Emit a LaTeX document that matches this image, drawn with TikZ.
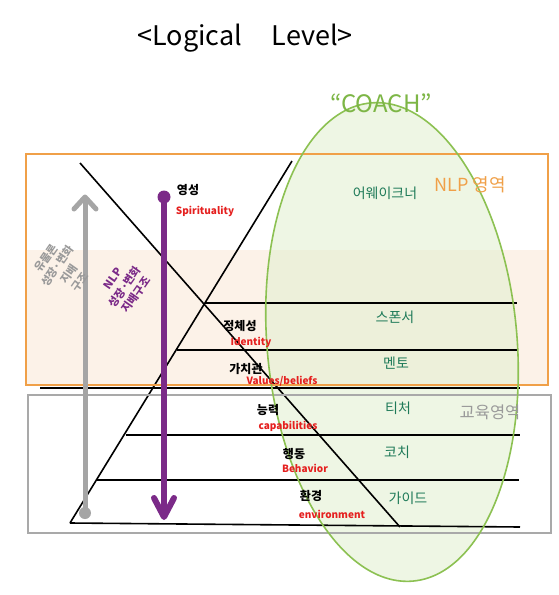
\documentclass[tikz,border=0pt]{standalone}
\usepackage{fontspec}
\usetikzlibrary{calc}
\newfontfamily\kr{Noto Sans CJK KR}
\definecolor{orng}{HTML}{F0A048}
\definecolor{peach}{HTML}{FCF2E8}
\definecolor{gbox}{HTML}{A9A9A9}
\definecolor{elfill}{HTML}{E4F0D2}
\definecolor{elline}{HTML}{8CC152}
\definecolor{dgreen}{HTML}{1E7A58}
\definecolor{lred}{HTML}{E5201F}
\definecolor{purp}{HTML}{7B2A88}
\definecolor{garrow}{HTML}{A5A5A5}
\definecolor{coach}{HTML}{7DB646}
\definecolor{gtext}{HTML}{9A9A9A}
\tikzset{
  lvl/.style={line width=1.6pt, black},
  kor/.style={font=\kr\bfseries\fontsize{12}{13}\selectfont, text=black, inner sep=0pt},
  eng/.style={font=\kr\bfseries\fontsize{10}{11}\selectfont, text=lred, inner sep=0pt},
  role/.style={font=\kr\fontsize{14}{15}\selectfont, text=dgreen, inner sep=0pt},
  rot/.style={font=\kr\bfseries\fontsize{11}{14}\selectfont, align=center, rotate=55, inner sep=0pt},
}
\begin{document}
\begin{tikzpicture}[x=1pt,y=-1pt]
\useasboundingbox (0,0) rectangle (559,595);
\fill[white] (0,0) rectangle (559,595);

% peach band
\fill[peach] (27,250) rectangle (547,385);

% ellipse fill
\begin{scope}[shift={(392,342)}, rotate=5]
  \fill[elfill, opacity=0.6] (0,0) ellipse [x radius=125pt, y radius=240pt];
\end{scope}

% pyramid coordinates
\coordinate (pbl) at (70,523);
\coordinate (ptr) at (292,161);
\coordinate (ptl) at (80,163);
\coordinate (pbr) at (400,527);
\coordinate (h1l) at (205,303); \coordinate (h1r) at (517,303);
\coordinate (h2l) at (177,350); \coordinate (h2r) at (517,350);
\coordinate (h3l) at (40,388);  \coordinate (h3r) at (520,388);
\coordinate (h4l) at (126,435); \coordinate (h4r) at (520,435);
\coordinate (h5l) at (97,480);  \coordinate (h5r) at (519,480);
\coordinate (h6r) at (520,527);

\draw[lvl] (pbl) -- (ptr);
\draw[lvl] (ptl) -- (pbr);
\draw[lvl] (h1l) -- (h1r);
\draw[lvl] (h2l) -- (h2r);
\draw[lvl] (h3l) -- (h3r);
\draw[lvl] (h4l) -- (h4r);
\draw[lvl] (h5l) -- (h5r);
\draw[lvl] (pbl) -- (h6r);

% boxes
\draw[orng, line width=1.8pt] (26,154) rectangle (548,385);
\draw[gbox, line width=1.5pt] (28,395) rectangle (551,533);

% ellipse outline
\begin{scope}[shift={(392,342)}, rotate=5]
  \draw[elline, line width=1.6pt] (0,0) ellipse [x radius=125pt, y radius=240pt];
\end{scope}

% gray arrow (upward)
\coordinate (gb) at (85,513);
\coordinate (gt) at (85,197);
\draw[garrow, line width=5pt] (gb) -- (gt);
\draw[garrow, line width=5pt, line cap=round, line join=round] ($(gt)+(-11,12)$) -- (gt) -- ($(gt)+(11,12)$);
\fill[garrow] (gb) circle (6pt);

% purple arrow (downward)
\coordinate (pt) at (164,197);
\coordinate (pb) at (164,517);
\draw[purp, line width=6pt] (pt) -- (pb);
\draw[purp, line width=6pt, line cap=round, line join=round] ($(pb)+(-10,-19)$) -- (pb) -- ($(pb)+(10,-19)$);
\fill[purp] (pt) circle (6.5pt);

% title
\node[font=\kr\fontsize{27}{29}\selectfont, inner sep=0pt] (title) at (245,38) {<Logical\hspace{1.1em}Level>};
\node[font=\kr\fontsize{24}{26}\selectfont, text=coach, inner sep=0pt] (coachlbl) at (381,103) {“COACH”};

% level labels
\node[kor] (k1) at (188,190) {영성};
\node[eng] (e1) at (205,211) {Spirituality};
\node[kor] (k2) at (240,326) {정체성};
\node[eng] (e2) at (251,342) {Identity};
\node[kor] (k3) at (246,369) {가치관};
\node[eng] (e3) at (282,381) {Values/beliefs};
\node[kor] (k4) at (268,410) {능력};
\node[eng] (e4) at (288,426) {capabilities};
\node[kor] (k5) at (294,454) {행동};
\node[eng] (e5) at (305,468) {Behavior};
\node[kor] (k6) at (311,496) {환경};
\node[eng] (e6) at (332,514) {environment};

% roles
\node[role] (r1) at (385,193) {어웨이크너};
\node[role] (r2) at (395,317) {스폰서};
\node[role] (r3) at (396,363) {멘토};
\node[role] (r4) at (398,408) {티처};
\node[role] (r5) at (397,452) {코치};
\node[role] (r6) at (408,498) {가이드};

% areas
\node[font=\kr\fontsize{18}{19}\selectfont, text=orng, inner sep=0pt] (nlp) at (470,185) {NLP 영역};
\node[font=\kr\fontsize{16.5}{17}\selectfont, text=gtext, inner sep=0pt] (edu) at (490,412) {교육영역};

% rotated texts
\node[rot, text=gtext] (gtxt) at (63,270) {유물론\\성장·변화\\지배\\구조};
\node[rot, text=purp] (ptxt) at (125,287) {NLP\\성장·변화\\지배구조};
\end{tikzpicture}
\end{document}
